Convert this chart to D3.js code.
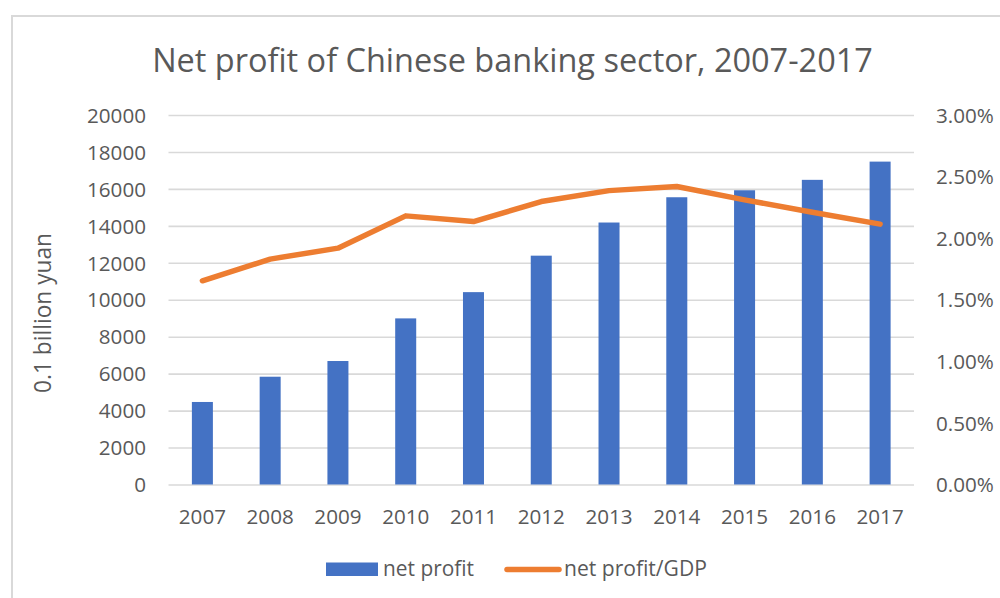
<!DOCTYPE html>
<html>
<head>
<meta charset="utf-8">
<script src="https://cdn.jsdelivr.net/npm/d3@7"></script>
<style>
  html, body { margin: 0; padding: 0; background: #fff; }
  svg { display: block; }
  text { font-family: "Open Sans", "Noto Sans", sans-serif; fill: #595959; }
</style>
</head>
<body>
<svg id="chart" width="1000" height="598"></svg>
<script>
// Chinese banking sector net profit (0.1 billion yuan) and its share of GDP
const years = ["2007", "2008", "2009", "2010", "2011", "2012", "2013", "2014", "2015", "2016", "2017"];
const netProfit = [4467, 5834, 6684, 8991, 10412, 12386, 14180, 15548, 15926, 16490, 17477];
const profitToGdp = [0.01654, 0.01830, 0.01919, 0.02181, 0.02135, 0.02297, 0.02386, 0.02419, 0.02311, 0.02211, 0.02114];
const leftTicks = [0, 2000, 4000, 6000, 8000, 10000, 12000, 14000, 16000, 18000, 20000];
const rightTicks = [0, 0.005, 0.01, 0.015, 0.02, 0.025, 0.03];

const svg = d3.select("#chart");

// chart frame
svg.append("rect")
  .attr("x", 12).attr("y", 16)
  .attr("width", 1000).attr("height", 620)
  .attr("fill", "#fff")
  .attr("stroke", "#d9d9d9").attr("stroke-width", 2);

const plot = { left: 168.5, right: 914, top: 115, bottom: 484.5 };

const x = d3.scaleBand()
  .domain(years)
  .range([plot.left, plot.right])
  .paddingInner(0.69)
  .paddingOuter(0.345);

const yL = d3.scaleLinear().domain([0, 20000]).range([plot.bottom, plot.top]);
const yR = d3.scaleLinear().domain([0, 0.03]).range([plot.bottom, plot.top]);

// scale a text element's font size so it spans the given width
function fit(sel, width) {
  sel.each(function () {
    const w = this.getComputedTextLength();
    const fs = parseFloat(this.getAttribute("font-size"));
    this.setAttribute("font-size", (fs * width / w).toFixed(2));
  });
}

// gridlines
const grid = d3.axisLeft(yL).tickValues(leftTicks)
  .tickSize(-(plot.right - plot.left)).tickFormat("");
svg.append("g")
  .attr("transform", `translate(${plot.left},0)`)
  .call(grid)
  .call(g => g.select(".domain").remove())
  .call(g => g.selectAll("line").attr("stroke", "#d9d9d9").attr("stroke-width", 1.6));

// tick label size from the widest label
const probe = svg.append("text").attr("font-size", 20).text("20000");
fit(probe, 59);
const tickSize = +probe.attr("font-size");
probe.remove();

// left axis labels
svg.append("g")
  .attr("transform", `translate(${plot.left - 22.5},0)`)
  .call(d3.axisLeft(yL).tickValues(leftTicks).tickSize(0).tickPadding(0).tickFormat(d3.format("d")))
  .call(g => g.select(".domain").remove())
  .call(g => g.selectAll("text")
    .attr("font-family", null).attr("font-size", tickSize)
    .attr("fill", "#595959").attr("dy", "0.35em"));

// right axis labels
svg.append("g")
  .attr("transform", `translate(${plot.right + 22},0)`)
  .call(d3.axisRight(yR).tickValues(rightTicks).tickSize(0).tickPadding(0).tickFormat(d3.format(".2%")))
  .call(g => g.select(".domain").remove())
  .call(g => g.selectAll("text")
    .attr("font-family", null).attr("font-size", tickSize)
    .attr("fill", "#595959").attr("dy", "0.35em"));

// category labels
svg.append("g")
  .attr("transform", `translate(0,${plot.bottom})`)
  .call(d3.axisBottom(x).tickSize(0).tickPadding(0))
  .call(g => g.select(".domain").remove())
  .call(g => g.selectAll("text")
    .attr("font-family", null).attr("font-size", tickSize)
    .attr("fill", "#595959").attr("dy", null).attr("y", 39));

// bars
svg.append("g")
  .selectAll("rect")
  .data(years)
  .join("rect")
  .attr("x", d => x(d))
  .attr("width", x.bandwidth())
  .attr("y", (d, i) => yL(netProfit[i]))
  .attr("height", (d, i) => yL(0) - yL(netProfit[i]))
  .attr("fill", "#4472c4");

// ratio line
const line = d3.line()
  .x((d, i) => x(years[i]) + x.bandwidth() / 2)
  .y(d => yR(d));
svg.append("path")
  .datum(profitToGdp)
  .attr("d", line)
  .attr("fill", "none")
  .attr("stroke", "#ed7d31")
  .attr("stroke-width", 5.5)
  .attr("stroke-linejoin", "round")
  .attr("stroke-linecap", "round");

// title
const title = svg.append("text")
  .attr("x", 512.5).attr("y", 72)
  .attr("text-anchor", "middle")
  .attr("font-size", 30)
  .text("Net profit of Chinese banking sector, 2007-2017");
fit(title, 721);

// left axis title
const yTitle = svg.append("text")
  .attr("transform", "translate(51,313) rotate(-90)")
  .attr("text-anchor", "middle")
  .attr("font-size", 20)
  .text("0.1 billion yuan");
fit(yTitle, 160);

// legend
const legend = svg.append("g");
legend.append("rect")
  .attr("x", 326).attr("y", 562.5)
  .attr("width", 52).attr("height", 13.5)
  .attr("fill", "#4472c4");
const l1 = legend.append("text")
  .attr("x", 383).attr("y", 576)
  .attr("font-size", 20)
  .text("net profit");
fit(l1, 91);
legend.append("line")
  .attr("x1", 507).attr("x2", 559)
  .attr("y1", 569.5).attr("y2", 569.5)
  .attr("stroke", "#ed7d31").attr("stroke-width", 5.5)
  .attr("stroke-linecap", "round");
const l2 = legend.append("text")
  .attr("x", 564).attr("y", 576)
  .attr("font-size", 20)
  .text("net profit/GDP");
fit(l2, 143);
</script>
</body>
</html>
